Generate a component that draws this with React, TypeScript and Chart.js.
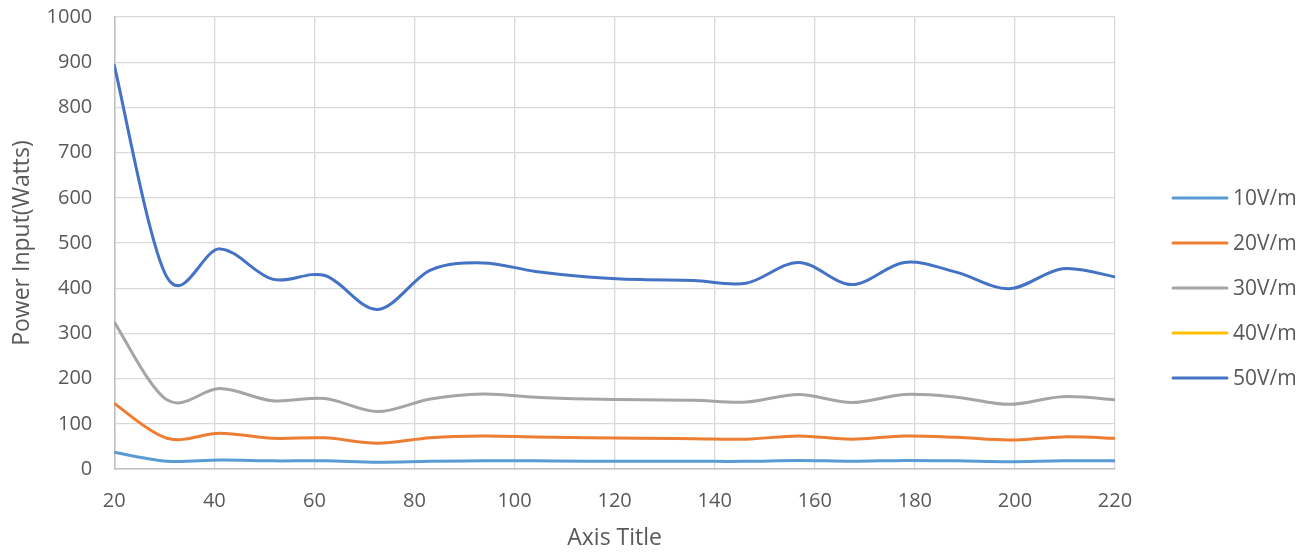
import { useEffect, useRef } from "react";
import { Chart, registerables } from "chart.js";

Chart.register(...registerables);

const X_VALUES = [20, 30.5, 41.1, 51.6, 62.1, 72.6, 83.2, 93.7, 104.2, 114.7, 125.3, 135.8, 146.3, 156.8, 167.4, 177.9, 188.4, 198.9, 209.5, 220];
const SERIES_LABELS = ["10V/m", "20V/m", "30V/m", "40V/m", "50V/m"];
const SERIES_COLORS = ["#5B9BD5", "#ED7D31", "#A5A5A5", "#FFC000", "#4472C4"];
const V10 = [37, 17, 20, 18, 18, 15, 17, 18, 18, 17, 17, 17, 17, 19, 17, 19, 18, 16, 18, 18];
const V20 = [145, 68, 79, 68, 69, 57, 69, 73, 71, 69, 68, 67, 66, 73, 66, 73, 70, 64, 71, 68];
const V30 = [325, 153, 178, 151, 156, 127, 155, 166, 159, 155, 153, 152, 148, 165, 147, 165, 159, 143, 160, 153];
const V40: number[] = [];
const V50 = [893, 425, 487, 420, 428, 353, 440, 456, 437, 425, 419, 417, 411, 457, 408, 457, 435, 399, 443, 425];
const SERIES_VALUES = [V10, V20, V30, V40, V50];
const X_TITLE = "Axis Title";
const Y_TITLE = "Power Input(Watts)";

const FONT = '"Open Sans", "Noto Sans", sans-serif';
const TEXT_COLOR = "#595959";

// Office-style smoothing: Bezier control points at 1/6 of the neighbour chord,
// computed from the pixel positions that the chart's scales gave each point.
const officeSmooth = {
  id: "officeSmooth",
  beforeDatasetDraw(chart: any, args: any) {
    const meta = args.meta;
    const pts = meta.data;
    const n = pts.length;
    if (n < 2) return;
    for (let i = 0; i < n; i++) {
      const p = pts[i];
      const prev = pts[i - 1] || p;
      const next = pts[i + 1] || p;
      const dx = (next.x - prev.x) / 6;
      const dy = (next.y - prev.y) / 6;
      p.cp1x = p.x - dx;
      p.cp1y = p.y - dy;
      p.cp2x = p.x + dx;
      p.cp2y = p.y + dy;
    }
    if (meta.dataset) meta.dataset._pointsUpdated = true;
  },
};

const sideLegend = {
  id: "sideLegend",
  afterDraw(chart: any) {
    const { ctx, chartArea } = chart;
    const x0 = chartArea.right + 58;
    const top = 198;
    ctx.save();
    chart.data.datasets.forEach((ds: any, i: number) => {
      const y = top + i * 45;
      ctx.strokeStyle = ds.borderColor;
      ctx.lineWidth = 3;
      ctx.lineCap = "round";
      ctx.beginPath();
      ctx.moveTo(x0, y);
      ctx.lineTo(x0 + 54, y);
      ctx.stroke();
      ctx.fillStyle = TEXT_COLOR;
      ctx.font = `21px ${FONT}`;
      ctx.textBaseline = "middle";
      ctx.textAlign = "left";
      ctx.fillText(ds.label, x0 + 60, y + 1);
    });
    ctx.restore();
  },
};

export default function App() {
  const ref = useRef<HTMLCanvasElement | null>(null);

  useEffect(() => {
    if (!ref.current) return;
    const datasets = SERIES_LABELS.map((label, i) => ({
      label,
      data: SERIES_VALUES[i].map((v, j) => ({ x: X_VALUES[j], y: v })),
      borderColor: SERIES_COLORS[i],
      backgroundColor: SERIES_COLORS[i],
      borderWidth: 3,
      pointRadius: 0,
      tension: 0.4,
      fill: false,
      borderCapStyle: "round" as const,
      borderJoinStyle: "round" as const,
    }));
    const chart = new Chart(ref.current, {
      type: "line",
      data: { datasets },
      plugins: [officeSmooth, sideLegend],
      options: {
        responsive: false,
        animation: false,
        devicePixelRatio: 1,
        layout: { padding: { left: 0, right: 197, top: 17, bottom: 0 } },
        plugins: {
          legend: { display: false },
          tooltip: { enabled: false },
        },
        scales: {
          x: {
            type: "linear",
            min: 20,
            max: 220,
            ticks: {
              stepSize: 20,
              padding: 20,
              color: TEXT_COLOR,
              font: { family: FONT, size: 20 },
              maxRotation: 0,
              callback: (v: any) => String(v),
            },
            grid: { color: "#D9D9D9", lineWidth: 1.3, drawTicks: false },
            border: { color: "#BFBFBF", width: 1.5 },
            title: {
              display: true,
              text: X_TITLE,
              color: TEXT_COLOR,
              font: { family: FONT, size: 23 },
              padding: { top: 0, bottom: 1 },
            },
            afterFit(scale: any) {
              scale.height = 84;
            },
          },
          y: {
            min: 0,
            max: 1000,
            ticks: {
              stepSize: 100,
              padding: 22,
              color: TEXT_COLOR,
              font: { family: FONT, size: 20 },
              callback: (v: any) => String(v),
            },
            grid: { color: "#D9D9D9", lineWidth: 1.3, drawTicks: false },
            border: { color: "#BFBFBF", width: 1.5 },
            title: {
              display: true,
              text: Y_TITLE,
              color: TEXT_COLOR,
              font: { family: FONT, size: 23 },
              padding: { top: 9, bottom: 0 },
            },
            afterFit(scale: any) {
              scale.width = 114.3;
              scale.paddingTop = 0;
              scale.paddingBottom = 0;
            },
          },
        },
      },
    });
    return () => chart.destroy();
  }, []);

  return (
    <div style={{ position: "absolute", left: 0, top: 0, width: 1312, height: 553, background: "#fff" }}>
      <canvas ref={ref} width={1312} height={553} style={{ display: "block" }} />
    </div>
  );
}
